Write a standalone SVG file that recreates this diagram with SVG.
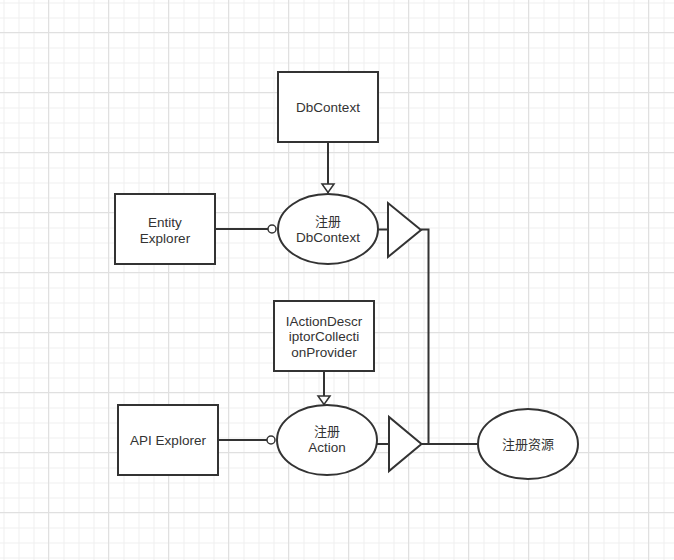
<svg xmlns="http://www.w3.org/2000/svg" width="674" height="560" viewBox="0 0 674 560">
<defs>
<pattern id="minor" x="3.5" y="2.5" width="15" height="15" patternUnits="userSpaceOnUse">
<path d="M0 0.5H15M0.5 0V15" fill="none" stroke="#efefef" stroke-width="1"/>
</pattern>
<pattern id="major" x="48" y="32" width="60" height="60" patternUnits="userSpaceOnUse">
<path d="M0 0.5H60M0.5 0V60" fill="none" stroke="#e0e0e0" stroke-width="1"/>
</pattern>
<marker id="open" viewBox="0 0 10 16" refX="10" refY="8" markerWidth="10" markerHeight="16" markerUnits="userSpaceOnUse" orient="auto">
<path d="M1 2L9.5 8L1 14Z" fill="#ffffff" stroke="#333333" stroke-width="1.5"/>
</marker>
</defs>
<style>
.box{fill:#ffffff;stroke:#333333;stroke-width:2}
.ln{fill:none;stroke:#333333;stroke-width:2}
text{font-family:"Liberation Sans",Arial,sans-serif;font-size:13.5px;fill:#333333;text-anchor:middle}
text.cjk{font-family:"Noto Sans CJK SC","Noto Sans",sans-serif;font-size:13px}
</style>
<rect width="674" height="560" fill="#ffffff"/>
<rect width="674" height="560" fill="url(#minor)"/>
<rect width="674" height="560" fill="url(#major)"/>

<g id="connectors">
<line class="ln" x1="328" y1="142" x2="328" y2="193" marker-end="url(#open)"/>
<line class="ln" x1="324" y1="371" x2="324" y2="405" marker-end="url(#open)"/>
<line class="ln" x1="215" y1="229" x2="268" y2="229"/>
<circle cx="272" cy="229" r="4" fill="#ffffff" stroke="#333333" stroke-width="1.5"/>
<line class="ln" x1="218" y1="440" x2="267" y2="440"/>
<circle cx="271" cy="440" r="4" fill="#ffffff" stroke="#333333" stroke-width="1.5"/>
<line class="ln" x1="378" y1="229.5" x2="388" y2="229.5"/>
<line class="ln" x1="377" y1="444" x2="389" y2="444"/>
<path class="ln" d="M421 229.5H428.5V444H478"/>
<line class="ln" x1="421.5" y1="444" x2="429" y2="444"/>
</g>

<g id="dbcontext">
<rect class="box" x="278" y="72" width="100" height="70"/>
<text x="328" y="112">DbContext</text>
</g>
<g id="entity-explorer">
<rect class="box" x="115" y="194" width="100" height="70"/>
<text x="165" y="227">Entity</text>
<text x="165" y="242.5">Explorer</text>
</g>
<g id="register-dbcontext">
<ellipse class="box" cx="328" cy="229" rx="50" ry="35"/>
<text class="cjk" x="328" y="225.5">注册</text>
<text x="328" y="242">DbContext</text>
</g>
<g id="triangle-top">
<path class="box" d="M388 203L388 257L421 230Z"/>
</g>
<g id="iaction-provider">
<rect class="box" x="274" y="301" width="100" height="70"/>
<text x="324" y="325.5">IActionDescr</text>
<text x="324" y="341">iptorCollecti</text>
<text x="324" y="356.5">onProvider</text>
</g>
<g id="api-explorer">
<rect class="box" x="118" y="405" width="100" height="70"/>
<text x="168" y="444.5">API Explorer</text>
</g>
<g id="register-action">
<ellipse class="box" cx="327" cy="440" rx="50" ry="35"/>
<text class="cjk" x="327" y="435.5">注册</text>
<text x="327" y="452">Action</text>
</g>
<g id="triangle-bottom">
<path class="box" d="M389 417L389 471L421.5 444Z"/>
</g>
<g id="register-resource">
<ellipse class="box" cx="528" cy="444" rx="50" ry="35"/>
<text class="cjk" x="528" y="449">注册资源</text>
</g>
</svg>
